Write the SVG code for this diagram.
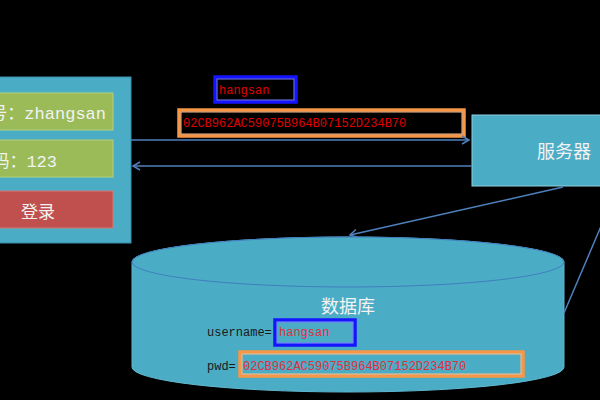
<svg xmlns="http://www.w3.org/2000/svg" width="600" height="400" viewBox="0 0 600 400">
<style>
.cjk{font-family:"Liberation Mono","Noto Sans CJK SC",monospace;fill:#f2f2f2}
.mono{font-family:"Liberation Mono","Noto Sans CJK SC",monospace;font-size:12px}
.red{fill:#e00000}
.dbred{fill:#e0303a}
.dark{fill:#1a1a1a}
.bluebox{fill:none;stroke:#1414ff;stroke-width:3.5}
.bluein{fill:none;stroke:#7a7aff;stroke-width:1}
.orbox{fill:none;stroke:#f79646;stroke-width:3.5}
.orin{fill:none;stroke:#fbc08f;stroke-width:1}
.conn{stroke:#4f81bd;stroke-width:1.5;fill:none}
</style>
<defs>
<marker id="arr" markerWidth="10" markerHeight="10" refX="8" refY="5" orient="auto" markerUnits="userSpaceOnUse">
<path d="M1,1 L8,5 L1,9" fill="none" stroke="#4f81bd" stroke-width="1.5"/>
</marker>
</defs>
<rect width="600" height="400" fill="#000"/>

<g id="login-panel">
<rect x="-10" y="77" width="141" height="166" fill="#4bacc6" stroke="#3a8fb0" stroke-width="1"/>
</g>
<g id="username-field">
<rect x="-10" y="93" width="123" height="37" fill="#9bbb59" stroke="#b5d07a" stroke-width="1"/>
<text class="cjk" x="106" y="119" font-size="17" text-anchor="end">账号：zhangsan</text>
</g>
<g id="password-field">
<rect x="-10" y="140" width="123" height="37" fill="#9bbb59" stroke="#b5d07a" stroke-width="1"/>
<text class="cjk" x="57" y="167" font-size="17" text-anchor="end">密码：123</text>
</g>
<g id="login-button">
<rect x="-37" y="191" width="150" height="37" fill="#c0504d" stroke="#d07a77" stroke-width="1"/>
<text class="cjk" x="38" y="218" font-size="17" text-anchor="middle">登录</text>
</g>

<g id="server">
<rect x="472" y="115" width="140" height="71" fill="#4bacc6" stroke="#8fd0e0" stroke-width="1"/>
<text class="cjk" x="564" y="158" font-size="18" text-anchor="middle">服务器</text>
</g>

<g id="database">
<path d="M132,262 L132,367 A216,25 0 0 0 564,367 L564,262 A216,25 0 0 0 132,262 Z" fill="#4bacc6" stroke="#5fb8d0" stroke-width="1"/>
<ellipse cx="348" cy="262" rx="216" ry="25" fill="#4bacc6" stroke="#3f7fbf" stroke-width="1"/>
<text class="cjk" x="348" y="313" font-size="18" text-anchor="middle">数据库</text>
<text class="mono dark" x="207" y="336">username=</text>
<text class="mono dbred" x="279" y="336">hangsan</text>
<rect class="bluebox" x="275" y="320" width="80" height="25"/>
<rect class="bluein" x="277" y="322" width="76" height="21"/>
<text class="mono dark" x="207" y="370">pwd=</text>
<text class="mono dbred" x="243" y="370">02CB962AC59075B964B07152D234B70</text>
<rect class="orbox" x="240" y="352" width="283" height="24"/>
<rect class="orin" x="242" y="354" width="279" height="20"/>
</g>

<g id="transfer-username">
<rect class="bluebox" x="215" y="77" width="81" height="25"/>
<rect class="bluein" x="217" y="79" width="77" height="21"/>
<text class="mono red" x="219" y="94">hangsan</text>
</g>
<g id="transfer-password">
<rect x="179" y="110" width="285" height="26" fill="#000" class="orbox"/>
<rect class="orin" x="181" y="112" width="281" height="22"/>
<text class="mono red" x="183" y="127">02CB962AC59075B964B07152D234B70</text>
</g>

<g id="connectors">
<line class="conn" x1="131" y1="140" x2="469" y2="140" marker-end="url(#arr)"/>
<line class="conn" x1="472" y1="166" x2="133" y2="166" marker-end="url(#arr)"/>
<line class="conn" x1="563" y1="187" x2="350" y2="235" marker-end="url(#arr)"/>
<line class="conn" x1="564" y1="313" x2="602" y2="224"/>
</g>
</svg>
